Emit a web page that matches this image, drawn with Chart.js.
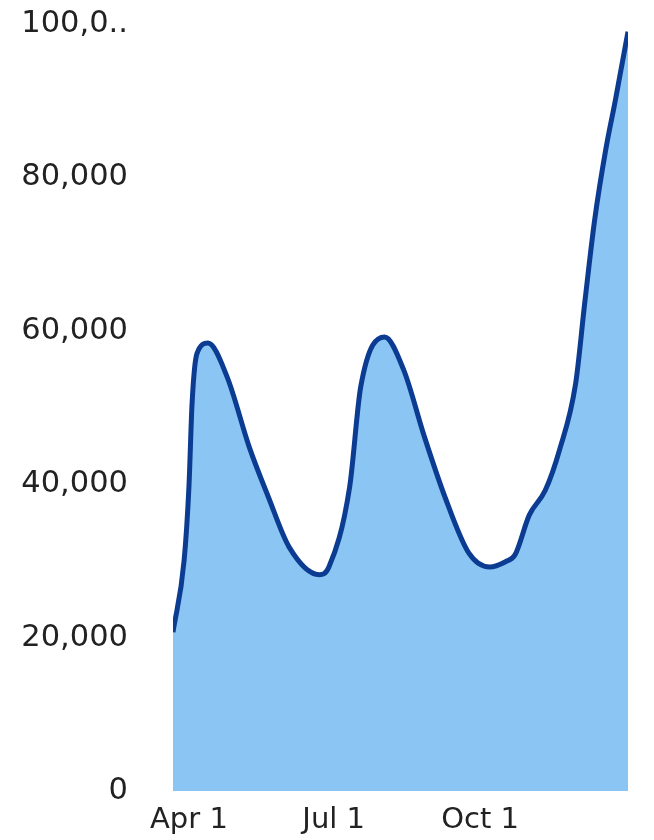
<!DOCTYPE html>
<html>
<head>
<meta charset="utf-8">
<script src="https://cdn.jsdelivr.net/npm/chart.js@4/dist/chart.umd.min.js"></script>
<style>
    html, body { margin: 0; padding: 0; background: #fff; }
    #wrap { width: 654px; height: 840px; }
</style>
</head>
<body>
<div id="wrap"><canvas id="chart"></canvas></div>
<script>
// day of year for each reading
const days = [81, 88, 91, 93, 96, 103, 115, 129, 141, 154, 173, 179, 192, 199, 214, 226, 239, 252, 267, 280, 290, 296, 305, 315, 324, 334, 340, 346, 353, 359, 367];
const values = [20700, 30100, 39600, 50600, 57000, 58400, 54000, 44800, 38300, 31800, 28200, 29200, 39600, 52700, 59200, 54900, 46200, 38300, 31000, 29200, 29900, 30800, 36000, 39200, 44500, 53000, 64000, 74400, 83600, 90000, 99000];

const xTickDays = [91, 182, 274];
const xTickLabels = ['Apr 1', 'Jul 1', 'Oct 1'];
const yTickValues = [0, 20000, 40000, 60000, 80000, 100000];
const yTickLabels = ['0', '20,000', '40,000', '60,000', '80,000', '100,0..'];

const points = days.map((d, i) => ({ x: d, y: values[i] }));

new Chart(document.getElementById('chart'), {
    type: 'line',
    data: {
        datasets: [{
            data: points,
            fill: 'origin',
            backgroundColor: 'rgb(138, 197, 244)',
            borderColor: '#0b3c92',
            borderWidth: 5,
            pointRadius: 0,
            cubicInterpolationMode: 'monotone'
        }]
    },
    options: {
        responsive: true,
        maintainAspectRatio: false,
        animation: false,
        layout: { padding: { left: 0, right: 26, top: 24, bottom: 0 } },
        plugins: {
            legend: { display: false },
            tooltip: { enabled: false }
        },
        scales: {
            x: {
                type: 'linear',
                min: days[0],
                max: days[days.length - 1],
                grid: { display: false, drawTicks: false },
                border: { display: false },
                afterBuildTicks: scale => {
                    scale.ticks = xTickDays.map(v => ({ value: v }));
                },
                afterFit: scale => {
                    scale.height = 49;
                    scale.paddingLeft = 0;
                    scale.paddingRight = 0;
                },
                ticks: {
                    autoSkip: false,
                    maxRotation: 0,
                    padding: 12,
                    color: '#222',
                    font: { family: 'DejaVu Sans', size: 29 },
                    callback: value => xTickLabels[xTickDays.indexOf(value)]
                }
            },
            y: {
                min: 0,
                max: 100000,
                grid: { display: false, drawTicks: false },
                border: { display: false },
                afterBuildTicks: scale => {
                    scale.ticks = yTickValues.map(v => ({ value: v }));
                },
                afterFit: scale => {
                    scale.width = 173;
                    scale.paddingTop = 0;
                    scale.paddingBottom = 0;
                },
                ticks: {
                    padding: 45,
                    color: '#222',
                    font: { family: 'DejaVu Sans', size: 30.5 },
                    callback: value => yTickLabels[yTickValues.indexOf(value)]
                }
            }
        }
    }
});
</script>
</body>
</html>
